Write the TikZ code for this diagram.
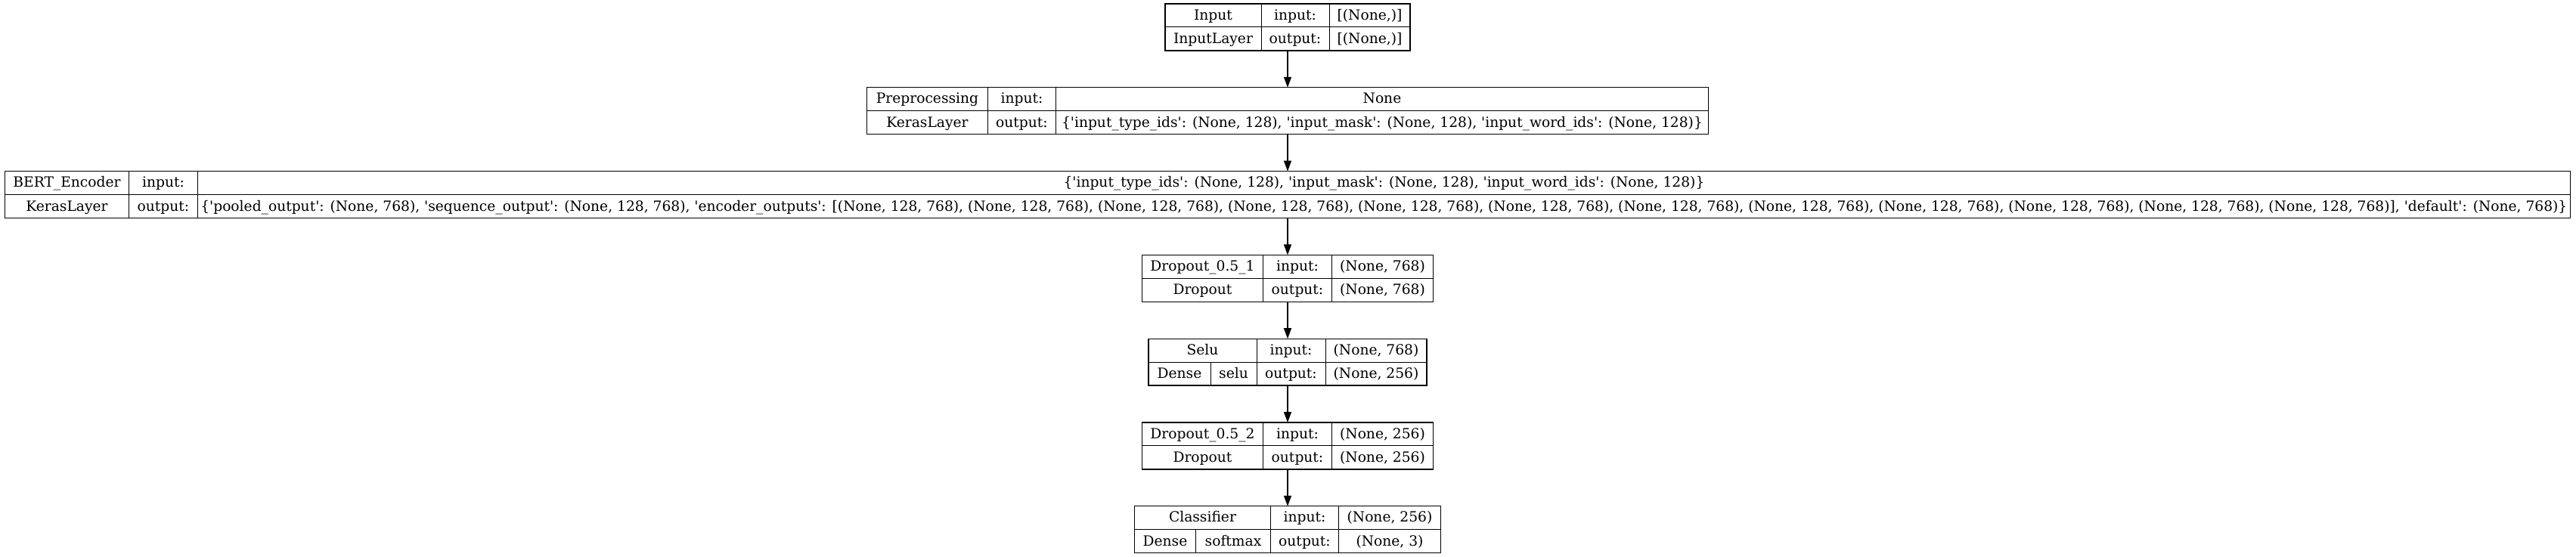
\documentclass[tikz,border=0pt]{standalone}
\usepackage{fontspec}
\setmainfont{DejaVu Serif}[Ligatures=TeXOff]
\usepackage{tikz}
\usetikzlibrary{positioning,arrows.meta}
\setlength{\tabcolsep}{0pt}
\setlength{\arrayrulewidth}{0.7pt}
\renewcommand{\arraystretch}{1}
\newcommand{\cellstrut}{\rule[-7pt]{0pt}{22.85pt}}
\newcommand{\cell}[2]{\makebox[#1]{\cellstrut#2}}

\begin{document}
\begin{tikzpicture}[node distance=36.7pt,
  layer/.style={draw, line width=1pt, inner sep=0pt, outer sep=0pt, font=\fontsize{14}{16.8}\selectfont},
  link/.style={-{Triangle[length=10.5pt,width=7.5pt]}, line width=1pt}]

\useasboundingbox (-1277.25pt,3.75pt) rectangle (1278pt,-549pt);

\node[layer, anchor=north] (input) at (0,0) {\begin{tabular}{@{}c|c|c@{}}
\cell{95.25pt}{Input} & \cell{67.5pt}{input:} & \cell{80.25pt}{[(None,)]}\\ \hline
\cell{95.25pt}{InputLayer} & \cell{67.5pt}{output:} & \cell{80.25pt}{[(None,)]}
\end{tabular}};

\node[layer, below=of input] (prep) {\begin{tabular}{@{}c|c|c@{}}
\cell{120pt}{Preprocessing} & \cell{67.5pt}{input:} & \cell{647.25pt}{None}\\ \hline
\cell{120pt}{KerasLayer} & \cell{67.5pt}{output:} & \cell{647.25pt}{\{'input\_type\_ids': (None, 128), 'input\_mask': (None, 128), 'input\_word\_ids': (None, 128)\}}
\end{tabular}};

\node[layer, below=of prep] (bert) {\begin{tabular}{@{}c|c|c@{}}
\cell{123pt}{BERT\_Encoder} & \cell{68.25pt}{input:} & \cell{2353.5pt}{\{'input\_type\_ids': (None, 128), 'input\_mask': (None, 128), 'input\_word\_ids': (None, 128)\}}\\ \hline
\cell{123pt}{KerasLayer} & \cell{68.25pt}{output:} & \cell{2353.5pt}{\{'pooled\_output': (None, 768), 'sequence\_output': (None, 128, 768), 'encoder\_outputs': [(None, 128, 768), (None, 128, 768), (None, 128, 768), (None, 128, 768), (None, 128, 768), (None, 128, 768), (None, 128, 768), (None, 128, 768), (None, 128, 768), (None, 128, 768), (None, 128, 768), (None, 128, 768)], 'default': (None, 768)\}}
\end{tabular}};

\node[layer, below=of bert] (drop1) {\begin{tabular}{@{}c|c|c@{}}
\cell{120pt}{Dropout\_0.5\_1} & \cell{68.25pt}{input:} & \cell{100.5pt}{(None, 768)}\\ \hline
\cell{120pt}{Dropout} & \cell{68.25pt}{output:} & \cell{100.5pt}{(None, 768)}
\end{tabular}};

\node[layer, below=of drop1] (selu) {\begin{tabular}{@{}c|c|c|c@{}}
\multicolumn{2}{@{}c|}{\cellstrut Selu} & \cell{68.25pt}{input:} & \cell{100.5pt}{(None, 768)}\\ \hline
\cell{61.5pt}{Dense} & \cell{45.75pt}{selu} & \cell{68.25pt}{output:} & \cell{100.5pt}{(None, 256)}
\end{tabular}};

\node[layer, below=of selu] (drop2) {\begin{tabular}{@{}c|c|c@{}}
\cell{120pt}{Dropout\_0.5\_2} & \cell{68.25pt}{input:} & \cell{100.5pt}{(None, 256)}\\ \hline
\cell{120pt}{Dropout} & \cell{68.25pt}{output:} & \cell{100.5pt}{(None, 256)}
\end{tabular}};

\node[layer, below=of drop2] (clf) {\begin{tabular}{@{}c|c|c|c@{}}
\multicolumn{2}{@{}c|}{\cellstrut Classifier} & \cell{67.5pt}{input:} & \cell{101.25pt}{(None, 256)}\\ \hline
\cell{60.75pt}{Dense} & \cell{74.25pt}{softmax} & \cell{67.5pt}{output:} & \cell{101.25pt}{(None, 3)}
\end{tabular}};

\draw[link] (input.south) -- (prep.north);
\draw[link] (prep.south) -- (bert.north);
\draw[link] (bert.south) -- (drop1.north);
\draw[link] (drop1.south) -- (selu.north);
\draw[link] (selu.south) -- (drop2.north);
\draw[link] (drop2.south) -- (clf.north);
\end{tikzpicture}
\end{document}
